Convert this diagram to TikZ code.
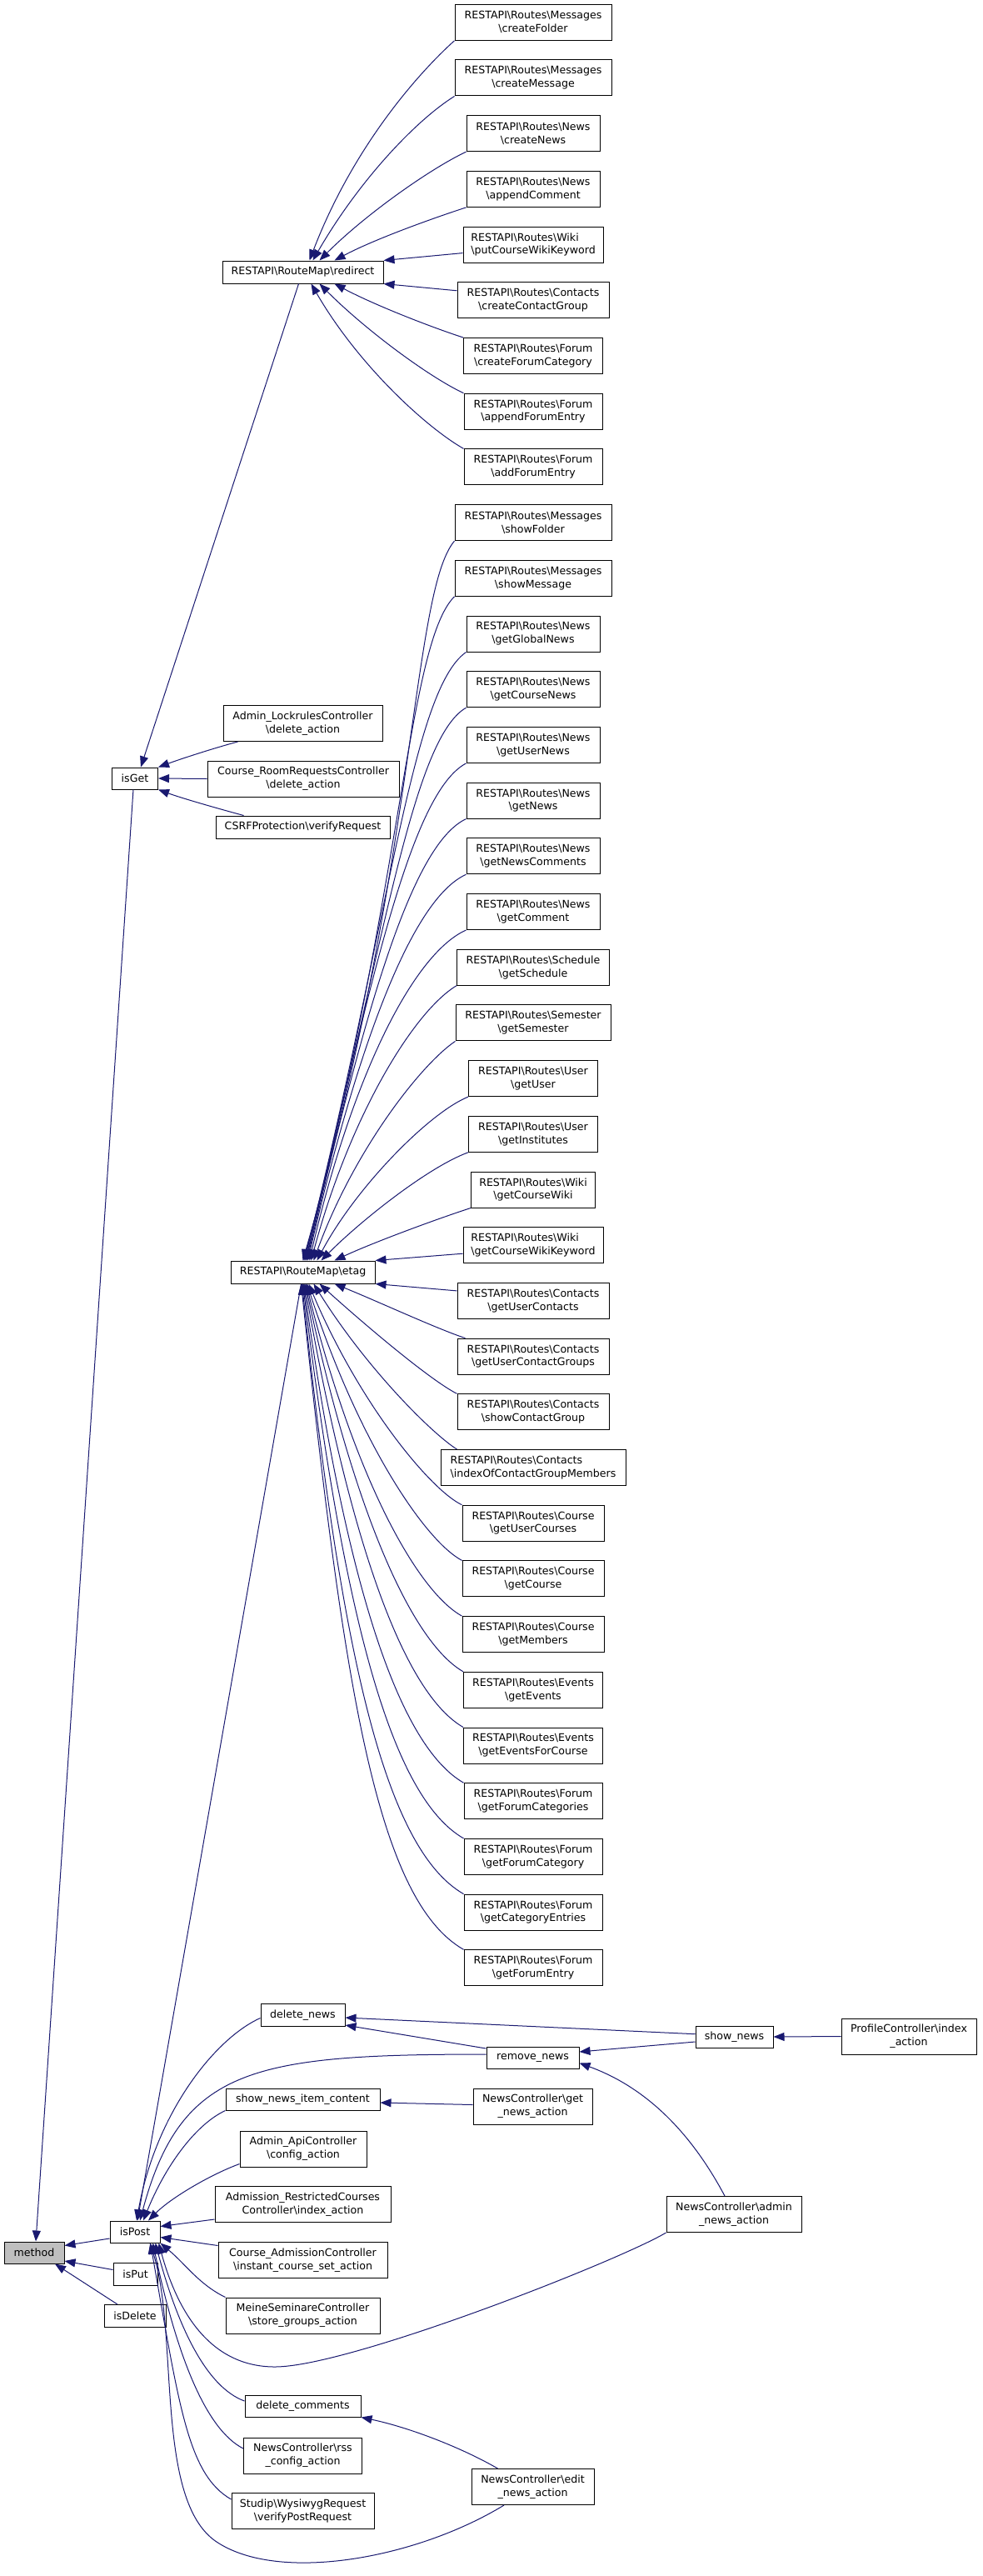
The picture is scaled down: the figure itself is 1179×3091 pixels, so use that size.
\documentclass[tikz,border=0pt]{standalone}
\usepackage{fontspec}
\setmainfont{DejaVu Sans}
\usetikzlibrary{arrows.meta}
\definecolor{edgec}{HTML}{191970}
\definecolor{methodfill}{HTML}{BFBFBF}
\newcommand{\bksl}{\textbackslash{}}
\begin{document}
\begin{tikzpicture}[x=1pt,y=-1pt,
  box/.style={draw=black, line width=1pt, fill=white, inner sep=0pt, align=center,
    font=\fontsize{12.6}{15.8}\selectfont},
  e/.style={draw=edgec, line width=1pt, {Triangle[length=13pt,width=10pt]}-}]
\fill[white] (0,0) rectangle (1179,3091);
\useasboundingbox (0,0) rectangle (1179,3091);

% right column of RESTAPI routes
\foreach \rn/\ri/\rw/\rcat/\rfun/\ral in {
cf/0/188/Messages/createFolder/center,
cm/1/188/Messages/createMessage/center,
cn/2/160/News/createNews/center,
ac/3/160/News/appendComment/center,
pw/4/168/Wiki/putCourseWikiKeyword/left,
cg/5/182/Contacts/createContactGroup/center,
fc/6/167/Forum/createForumCategory/center,
fa/7/166/Forum/appendForumEntry/center,
fe/8/166/Forum/addForumEntry/center,
sf/9/188/Messages/showFolder/center,
sm/10/188/Messages/showMessage/center,
gg/11/160/News/getGlobalNews/center,
gc/12/160/News/getCourseNews/center,
gu/13/160/News/getUserNews/center,
gn/14/160/News/getNews/center,
gnc/15/160/News/getNewsComments/center,
gco/16/160/News/getComment/center,
gs/17/183/Schedule/getSchedule/center,
gse/18/186/Semester/getSemester/center,
gus/19/155/User/getUser/center,
gi/20/155/User/getInstitutes/center,
gw/21/149/Wiki/getCourseWiki/center,
gwk/22/168/Wiki/getCourseWikiKeyword/left,
guc/23/182/Contacts/getUserContacts/center,
gucg/24/182/Contacts/getUserContactGroups/center,
scg/25/182/Contacts/showContactGroup/center,
icg/26/222/Contacts/indexOfContactGroupMembers/left,
guco/27/170/Course/getUserCourses/center,
gcs/28/170/Course/getCourse/center,
gm/29/170/Course/getMembers/center,
ge/30/167/Events/getEvents/center,
gef/31/167/Events/getEventsForCourse/center,
gfc/32/166/Forum/getForumCategories/center,
gfy/33/166/Forum/getForumCategory/center,
gce/34/166/Forum/getCategoryEntries/center,
gfe/35/166/Forum/getForumEntry/center}{
  \node[box, align=\ral, minimum width=\rw pt, minimum height=43pt] (\rn) at (640,{26.8+66.7*\ri})
    {RESTAPI\bksl Routes\bksl \rcat\\\bksl \rfun};
}

% left-hand nodes
\node[box, minimum width=193pt, minimum height=27pt] (redirect) at (363.5,326.5) {RESTAPI\bksl RouteMap\bksl redirect};
\node[box, minimum width=173pt, minimum height=27pt] (etag) at (363.5,1526.5) {RESTAPI\bksl RouteMap\bksl etag};
\node[box, minimum width=55pt, minimum height=26pt] (isGet) at (162,934) {isGet};
\node[box, minimum width=191pt, minimum height=43pt] (lock) at (363.5,868) {Admin\_LockrulesController\\\bksl delete\_action};
\node[box, minimum width=230pt, minimum height=43pt] (room) at (364,934.5) {Course\_RoomRequestsController\\\bksl delete\_action};
\node[box, minimum width=209pt, minimum height=27pt] (csrf) at (363.5,992.5) {CSRFProtection\bksl verifyRequest};
\node[box, minimum width=60pt, minimum height=26pt] (isPost) at (162,2678) {isPost};
\node[box, fill=methodfill, minimum width=72pt, minimum height=26pt] (method) at (41,2703) {method};
\node[box, minimum width=53pt, minimum height=27pt] (isPut) at (162.5,2729) {isPut};
\node[box, minimum width=74pt, minimum height=27pt] (isDelete) at (162,2779) {isDelete};
\node[box, minimum width=101pt, minimum height=27pt] (dn) at (363.5,2418) {delete\_news};
\node[box, minimum width=185pt, minimum height=26pt] (snic) at (363.5,2519) {show\_news\_item\_content};
\node[box, minimum width=152pt, minimum height=43pt] (api) at (364,2578.5) {Admin\_ApiController\\\bksl config\_action};
\node[box, minimum width=211pt, minimum height=43pt] (adm) at (363.5,2645) {Admission\_RestrictedCourses\\Controller\bksl index\_action};
\node[box, minimum width=203pt, minimum height=43pt] (cadm) at (363.5,2712) {Course\_AdmissionController\\\bksl instant\_course\_set\_action};
\node[box, minimum width=185pt, minimum height=43pt] (ms) at (363.5,2778.5) {MeineSeminareController\\\bksl store\_groups\_action};
\node[box, minimum width=139pt, minimum height=26pt] (dc) at (363.5,2887) {delete\_comments};
\node[box, minimum width=142pt, minimum height=43pt] (rss) at (363.5,2946.5) {NewsController\bksl rss\\\_config\_action};
\node[box, minimum width=171pt, minimum height=43pt] (stu) at (363.5,3013) {Studip\bksl WysiwygRequest\\\bksl verifyPostRequest};
\node[box, minimum width=111pt, minimum height=26pt] (rn) at (639.5,2469) {remove\_news};
\node[box, minimum width=143pt, minimum height=43pt] (gna) at (639.5,2527.5) {NewsController\bksl get\\\_news\_action};
\node[box, minimum width=147pt, minimum height=43pt] (ed) at (639.5,2984) {NewsController\bksl edit\\\_news\_action};
\node[box, minimum width=93pt, minimum height=26pt] (sn) at (881.5,2444) {show\_news};
\node[box, minimum width=162pt, minimum height=43pt] (anw) at (881,2657) {NewsController\bksl admin\\\_news\_action};
\node[box, minimum width=162pt, minimum height=43pt] (pc) at (1091,2443.5) {ProfileController\bksl index\\\_action};

% redirect fan
\foreach \tn/\sx/\aa/\da/\ab/\db in {cf/8/69/145/222/60, cm/12/60/110/212/55, cn/20/45/80/205/45, ac/38/28/55/198/40}{
  \draw[e] ([xshift=\sx pt]redirect.north) .. controls +(\aa:\da pt) and +(\ab:\db pt) .. (\tn.south west);
}
\draw[e] (redirect.north east) -- ([yshift=-10pt]pw.west);
\draw[e] (redirect.south east) -- ([yshift=11.5pt]cg.west);
\foreach \tn/\sx/\aa/\da/\ab/\db in {fc/38/-28/55/162/40, fa/20/-45/80/155/45, fe/10/-60/110/150/55}{
  \draw[e] ([xshift=\sx pt]redirect.south) .. controls +(\aa:\da pt) and +(\ab:\db pt) .. (\tn.north west);
}

% etag fan (above)
\foreach \tn/\sx/\aa/\da/\ab/\db in {sf/0/74/500/230/80, sm/1/75/460/225/80, gg/2/76/425/215/80,
  gc/3/76/385/210/75, gu/4/77/345/208/75, gn/5/77/310/205/72, gnc/6/77/270/204/70, gco/8/77/225/204/70,
  gs/10/75/180/211/60, gse/13/70/140/214/50, gus/17/62/100/202/50, gi/22/45/70/200/50, gw/38/25/50/198/45}{
  \draw[e] ([xshift=\sx pt]etag.north) .. controls +(\aa:\da pt) and +(\ab:\db pt) .. (\tn.south west);
}
\draw[e] (etag.north east) -- ([yshift=-10pt]gwk.west);
\draw[e] (etag.south east) -- ([yshift=12pt]guc.west);
% etag fan (below)
\foreach \tn/\sx/\aa/\da/\ab/\db/\ex in {gucg/38/-22/55/162/35/10, scg/20/-42/80/153/35/0, icg/13/-58/120/148/35/20,
  guco/7/-67/160/155/40/0, gcs/5/-72/200/152/50/0, gm/4/-76/245/151/60/0, ge/3/-78/285/150/70/0,
  gef/2/-80/325/150/80/0, gfc/1/-82/365/150/90/0, gfy/0/-83/405/150/100/0, gce/-1/-84/445/150/110/0,
  gfe/-2/-84/490/150/120/0}{
  \draw[e] ([xshift=\sx pt]etag.south) .. controls +(\aa:\da pt) and +(\ab:\db pt) .. ([xshift=\ex pt]\tn.north west);
}

% isGet
\draw[e] ([xshift=7pt]isGet.north) -- ([xshift=-5pt]redirect.south);
\draw[e] (isGet.north east) .. controls +(20:30pt) and +(195:30pt) .. ([xshift=18pt]lock.south west);
\draw[e] (isGet.east) -- (room.west);
\draw[e] (isGet.south east) .. controls +(-20:30pt) and +(165:30pt) .. ([xshift=34pt]csrf.north west);

% method
\draw[e] ([xshift=2pt]method.north) -- ([xshift=-2pt]isGet.south);
\draw[e] ([yshift=8.5pt]method.east) -- ([yshift=-8pt]isPost.west);
\draw[e] ([yshift=-10pt]method.east) -- ([yshift=5.5pt]isPut.west);
\draw[e] ([xshift=25pt]method.south) -- ([xshift=-21pt]isDelete.north);

% isPost
\draw[e] ([xshift=3pt]isPost.north) -- ([xshift=-2pt]etag.south);
\draw[e] ([xshift=2pt]isPost.north) .. controls +(80:130pt) and +(204:60pt) .. ([yshift=-3.5pt]dn.west);
\draw[e] ([xshift=6pt]isPost.north) .. controls +(75:190pt) and +(180:280pt) .. ([yshift=4pt]rn.west);
\draw[e] ([xshift=10pt]isPost.north) .. controls +(68:70pt) and +(205:40pt) .. (snic.south west);
\draw[e] ([xshift=16pt]isPost.north) .. controls +(45:40pt) and +(200:35pt) .. ([yshift=4pt]api.south west);
\draw[e] ([yshift=6.5pt]isPost.east) -- ([yshift=-18pt]adm.west);
\draw[e] ([yshift=-6.5pt]isPost.east) -- ([yshift=17.5pt]cadm.west);
\draw[e] (isPost.south east) .. controls +(-40:40pt) and +(154:35pt) .. (ms.north west);
\draw[e] ([xshift=-2pt]isPost.south east) .. controls (212,2770) and (250,2840) .. (330,2840)
   .. controls (420,2840) and (744.5,2712) .. (anw.south west);
\draw[e] ([xshift=-6pt]isPost.south east) .. controls +(-75:100pt) and +(160:50pt) .. ([yshift=6pt]dc.west);
\draw[e] ([xshift=-9pt]isPost.south east) .. controls +(-78:140pt) and +(153:50pt) .. ([yshift=8.5pt]rss.west);
\draw[e] ([xshift=-12pt]isPost.south east) .. controls +(-80:200pt) and +(150:60pt) .. ([yshift=-8pt]stu.north west);
\draw[e] ([xshift=18pt]isPost.south) .. controls (215,2800) and (185,3000) .. (260,3050)
   .. controls (335,3100) and (500,3070) .. ([xshift=-34.5pt]ed.south);

% right-hand part
\draw[e] ([yshift=-3pt]dn.east) -- ([yshift=3.3pt]sn.west);
\draw[e] ([yshift=-12pt]dn.east) -- ([yshift=11pt]rn.west);
\draw[e] ([yshift=7pt]rn.east) -- ([yshift=-6pt]sn.west);
\draw[e] ([yshift=-6.5pt]rn.east) .. controls +(-20:90pt) and +(118:80pt) .. ([xshift=-11pt]anw.north);
\draw[e] (sn.east) -- (pc.west);
\draw[e] ([yshift=-4pt]snic.east) -- ([yshift=2pt]gna.west);
\draw[e] (dc.south east) .. controls +(-12:60pt) and +(150:50pt) .. ([xshift=-42pt]ed.north);
\end{tikzpicture}
\end{document}
